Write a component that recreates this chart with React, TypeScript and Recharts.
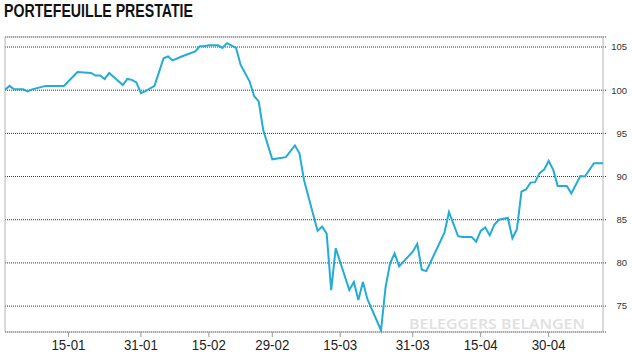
import React from "react";
import { LineChart, Line, XAxis, YAxis, CartesianGrid, ReferenceArea } from "recharts";

// portefeuille koers per datum (2016)
const dates = [
  "2016-01-01", "2016-01-02", "2016-01-03", "2016-01-05", "2016-01-06", "2016-01-07",
  "2016-01-10", "2016-01-14", "2016-01-17", "2016-01-20", "2016-01-21", "2016-01-22",
  "2016-01-23", "2016-01-24", "2016-01-27", "2016-01-28", "2016-01-29", "2016-01-30",
  "2016-01-31", "2016-02-01", "2016-02-03", "2016-02-05", "2016-02-06", "2016-02-07",
  "2016-02-09", "2016-02-12", "2016-02-13", "2016-02-14", "2016-02-15", "2016-02-17",
  "2016-02-18", "2016-02-19", "2016-02-21", "2016-02-22", "2016-02-24", "2016-02-25",
  "2016-02-26", "2016-02-27", "2016-02-29", "2016-03-03", "2016-03-05", "2016-03-06",
  "2016-03-07", "2016-03-10", "2016-03-11", "2016-03-12", "2016-03-13", "2016-03-14",
  "2016-03-17", "2016-03-18", "2016-03-19", "2016-03-20", "2016-03-21", "2016-03-24",
  "2016-03-25", "2016-03-26", "2016-03-27", "2016-03-28", "2016-03-31", "2016-04-01",
  "2016-04-02", "2016-04-03", "2016-04-07", "2016-04-08", "2016-04-10", "2016-04-11",
  "2016-04-13", "2016-04-14", "2016-04-15", "2016-04-16", "2016-04-17", "2016-04-18",
  "2016-04-19", "2016-04-21", "2016-04-22", "2016-04-23", "2016-04-24", "2016-04-25",
  "2016-04-26", "2016-04-27", "2016-04-28", "2016-04-29", "2016-04-30", "2016-05-01",
  "2016-05-02", "2016-05-04", "2016-05-05", "2016-05-07", "2016-05-08", "2016-05-10",
  "2016-05-12",
];

const values = [
  100.05, 100.5, 100.1, 100.1, 99.85, 100.1,
  100.5, 100.5, 102.1, 102.0, 101.7, 101.7,
  101.3, 102.0, 100.6, 101.3, 101.2, 100.9,
  99.65, 99.9, 100.5, 103.7, 103.9, 103.45,
  103.9, 104.5, 105.1, 105.1, 105.2, 105.2,
  104.9, 105.45, 104.9, 102.95, 101.0, 99.3,
  98.7, 95.4, 92.0, 92.25, 93.6, 92.7,
  89.6, 83.7, 84.2, 83.4, 76.85, 81.7,
  76.85, 77.8, 75.7, 77.8, 75.8, 72.2,
  77.2, 79.95, 81.1, 79.6, 81.3, 82.2,
  79.2, 79.05, 83.5, 85.9, 83.1, 83.0,
  83.0, 82.45, 83.7, 84.1, 83.2, 84.4,
  85.0, 85.2, 82.85, 83.9, 88.25, 88.5,
  89.3, 89.35, 90.4, 90.8, 91.8, 90.8,
  88.9, 88.9, 88.05, 90.05, 90.0, 91.55,
  91.55,
];

const xTickDates = [
  "2016-01-15", "2016-01-31", "2016-02-15", "2016-02-29",
  "2016-03-15", "2016-03-31", "2016-04-15", "2016-04-30",
];
const yTicks = [75, 80, 85, 90, 95, 100, 105];

const START = Date.UTC(2016, 0, 1);
const DAY = 86400000;
const dayOf = (iso: string) => {
  const [y, m, d] = iso.split("-").map(Number);
  return (Date.UTC(y, m - 1, d) - START) / DAY;
};
const fmtDay = (day: number) => {
  const dt = new Date(START + day * DAY);
  const dd = String(dt.getUTCDate()).padStart(2, "0");
  const mm = String(dt.getUTCMonth() + 1).padStart(2, "0");
  return `${dd}-${mm}`;
};

const data = dates.map((d, i) => ({ day: dayOf(d), value: values[i] }));
const firstDay = data[0].day;
const lastDay = data[data.length - 1].day;

const sans = "'Liberation Sans', Arial, sans-serif";

const YTick = (props: any) => {
  const { x, y, payload } = props;
  return (
    <text x={x + 21} y={y} dy="0.35em" textAnchor="end" fontSize={9.5} fill="#333" fontFamily={sans}>
      {payload.value}
    </text>
  );
};

// smalle labels zoals in het origineel
const XTick = (props: any) => {
  const { x, y, payload } = props;
  return (
    <text
      x={x}
      y={y}
      dy="0.71em"
      textAnchor="middle"
      fontSize={15}
      fill="#222"
      fontFamily={sans}
      textLength={34}
      lengthAdjust="spacingAndGlyphs"
    >
      {fmtDay(payload.value)}
    </text>
  );
};

export default function App() {
  return (
    <div style={{ position: "absolute", left: 0, top: 0, width: 632, height: 354, background: "#fff" }}>
      <svg width={632} height={24} style={{ position: "absolute", left: 0, top: 0 }}>
        <text
          x={4}
          y={16.8}
          fontFamily={sans}
          fontWeight={700}
          fontSize={17.5}
          fill="#111"
          textLength={189}
          lengthAdjust="spacingAndGlyphs"
        >
          PORTEFEUILLE PRESTATIE
        </text>
      </svg>
      <svg width={632} height={354} style={{ position: "absolute", left: 0, top: 0 }}>
        <text
          x={409}
          y={329}
          fontFamily="'Open Sans', 'Liberation Sans', sans-serif"
          fontWeight={600}
          fontSize={15}
          fill="#e0e0e0"
          textLength={176}
          lengthAdjust="spacingAndGlyphs"
        >
          BELEGGERS BELANGEN
        </text>
      </svg>
      <div style={{ position: "absolute", left: 0, top: 0 }}>
        <LineChart width={632} height={354} data={data} margin={{ top: 37, right: 0, bottom: 0, left: 5 }}>
          <CartesianGrid vertical={false} stroke="#333" strokeDasharray="1 1" />
          <ReferenceArea
            x1={firstDay}
            x2={lastDay}
            y1={72}
            y2={106.16}
            fill="none"
            fillOpacity={0}
            stroke="#b4b4b4"
            strokeWidth={1}
            ifOverflow="visible"
          />
          <XAxis
            dataKey="day"
            type="number"
            domain={[firstDay, lastDay + 0.66]}
            ticks={xTickDates.map(dayOf)}
            axisLine={false}
            tickLine={{ stroke: "#999" }}
            tickSize={5}
            tickMargin={2}
            height={22}
            interval={0}
            tick={<XTick />}
          />
          <YAxis
            orientation="right"
            type="number"
            domain={[72, 106.16]}
            ticks={yTicks}
            axisLine={false}
            tickLine={false}
            tickSize={0}
            tickMargin={0}
            width={26}
            interval={0}
            tick={<YTick />}
          />
          <Line
            type="linear"
            dataKey="value"
            stroke="#23acd5"
            strokeWidth={2}
            dot={false}
            activeDot={false}
            isAnimationActive={false}
          />
        </LineChart>
      </div>
    </div>
  );
}
